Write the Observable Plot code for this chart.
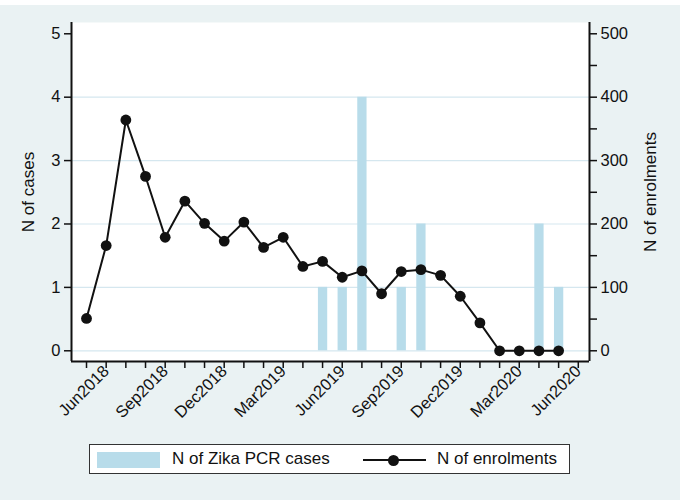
<!DOCTYPE html>
<html>
<head>
<meta charset="utf-8">
<script src="https://cdn.jsdelivr.net/npm/d3@7"></script>
<script src="https://cdn.jsdelivr.net/npm/@observablehq/plot@0.6"></script>
<style>
  html, body { margin: 0; padding: 0; background: #fff; }
  #wrap {
    width: 680px; height: 500px; position: relative; overflow: hidden;
    background: linear-gradient(#ffffff 0 5px, #eaf2f3 5px);
    font-family: "Liberation Sans", Arial, sans-serif; color: #111;
  }
  #chart svg { display: block; }
  #legend {
    position: absolute; left: 89px; top: 444px; width: 481px; height: 30px;
    box-sizing: border-box; border: 1px solid #333; background: #fff;
    font-size: 17px;
  }
  .sw-bar { position: absolute; left: 7px; top: 7px; width: 63px; height: 16px; background: #b8dcea; }
  .lab { position: absolute; top: 0; line-height: 28px; white-space: nowrap; }
  .sw-line { position: absolute; left: 273px; top: 14px; width: 63px; height: 2px; background: #111; }
  .sw-dot { position: absolute; left: 298px; top: 10px; width: 11px; height: 11px; border-radius: 50%; background: #111; }
</style>
</head>
<body>
<div id="wrap">
  <div id="chart"></div>
  <div id="legend">
    <div class="sw-bar"></div><div class="lab" style="left:82px">N of Zika PCR cases</div>
    <div class="sw-line"></div><div class="sw-dot"></div><div class="lab" style="left:347px">N of enrolments</div>
  </div>
</div>
<script>
// ---- data ----
const enrolMonths = ["2018-05","2018-06","2018-07","2018-08","2018-09","2018-10","2018-11","2018-12",
  "2019-01","2019-02","2019-03","2019-04","2019-05","2019-06","2019-07","2019-08","2019-09","2019-10",
  "2019-11","2019-12","2020-01","2020-02","2020-03","2020-04","2020-05"];
const enrolments = [51, 166, 364, 275, 179, 236, 201, 173, 203, 163, 179, 133, 141, 116, 126, 90, 125, 128,
  119, 86, 44, 0, 0, 0, 0];
const caseMonths = ["2019-05","2019-06","2019-07","2019-09","2019-10","2020-04","2020-05"];
const cases = [1, 1, 4, 1, 2, 2, 1];
const tickMonths = ["2018-06","2018-09","2018-12","2019-03","2019-06","2019-09","2019-12","2020-03","2020-06"];
const tickLabels = ["Jun2018","Sep2018","Dec2018","Mar2019","Jun2019","Sep2019","Dec2019","Mar2020","Jun2020"];
const leftTicks = [0, 1, 2, 3, 4, 5];
const rightTicks = [0, 50, 100, 150, 200, 250, 300, 350, 400, 450, 500];
const gridValues = [0, 1, 2, 3, 4];

// month string -> month index (May 2018 = 0)
const idx = s => { const [y, m] = s.split("-").map(Number); return (y - 2018) * 12 + (m - 5); };

const enrolData = enrolMonths.map((m, i) => ({x: idx(m), v: enrolments[i] / 100}));
const caseData = caseMonths.map((m, i) => ({x: idx(m), v: cases[i]}));
const labelByIdx = new Map(tickMonths.map((m, i) => [idx(m), tickLabels[i]]));
const allTicks = d3.range(idx("2018-05"), idx("2020-06") + 1);

const xDomain = [-0.763, 25.57];
const yDomain = [-0.169, 5.178];

const chart = Plot.plot({
  width: 680,
  height: 430,
  marginLeft: 71,
  marginRight: 91,
  marginTop: 22,
  marginBottom: 69,
  style: { background: "transparent", fontFamily: "Liberation Sans, Arial, sans-serif", fontSize: "16.5px", color: "#111" },
  x: { type: "linear", domain: xDomain },
  y: { type: "linear", domain: yDomain },
  marks: [
    Plot.frame({ fill: "#ffffff", stroke: "none" }),
    Plot.ruleY(gridValues, { stroke: "#d5e7ef", strokeWidth: 1.2 }),
    Plot.ruleX(caseData, { x: "x", y1: 0, y2: "v", stroke: "#b8dcea", strokeWidth: 9.3 }),
    Plot.line(enrolData, { x: "x", y: "v", stroke: "#111", strokeWidth: 2 }),
    Plot.dot(enrolData, { x: "x", y: "v", r: 5.4, fill: "#111", stroke: "none" }),
    Plot.ruleX([xDomain[0]], { stroke: "#111", strokeWidth: 2 }),
    Plot.ruleX([xDomain[1]], { stroke: "#111", strokeWidth: 2 }),
    Plot.ruleY([yDomain[0]], { stroke: "#111", strokeWidth: 2 }),
    Plot.axisY({ anchor: "left", ticks: leftTicks, tickSize: 7, tickPadding: 4, fontSize: 16.5,
      tickFormat: d => String(d), label: null, strokeWidth: 1.5 }),
    Plot.axisY({ anchor: "right", ticks: rightTicks.map(d => d / 100), tickSize: 7, tickPadding: 4, fontSize: 16.5,
      tickFormat: d => (Math.round(d * 100) % 100 === 0 ? String(Math.round(d * 100)) : ""), label: null, strokeWidth: 1.5 }),
    Plot.axisX({ anchor: "bottom", ticks: allTicks, tickSize: 7, tickPadding: 0, fontSize: 16.5, tickRotate: -45,
      tickFormat: d => labelByIdx.get(d) ?? "", label: null, strokeWidth: 1.5 }),
    Plot.text(["N of cases"], { frameAnchor: "left", textAnchor: "middle", dx: -43, rotate: -90, fontSize: 17, fill: "#111" }),
    Plot.text(["N of enrolments"], { frameAnchor: "right", textAnchor: "middle", dx: 61, rotate: -90, fontSize: 17, fill: "#111" })
  ]
});
document.getElementById("chart").appendChild(chart);
</script>
</body>
</html>
